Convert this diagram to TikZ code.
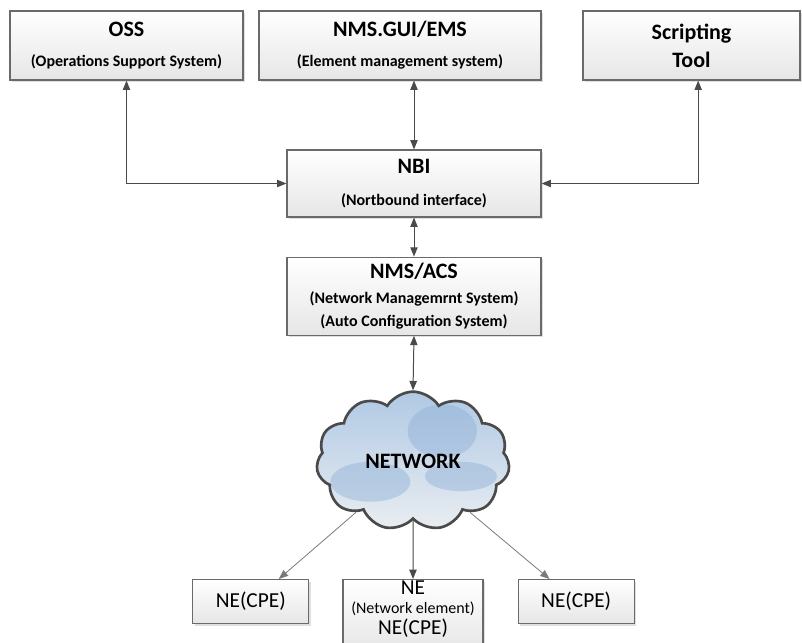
\documentclass[tikz,border=0pt]{standalone}
\usepackage{fontspec}
\setmainfont{Carlito}
\usepackage{tikz}
\usetikzlibrary{positioning, shapes.symbols, shadows, arrows.meta}

\definecolor{edgegray}{HTML}{4A4A4A}
\definecolor{linegray}{HTML}{7A7A7A}
\definecolor{boxline}{HTML}{6A6A6A}
\definecolor{boxbottom}{HTML}{E6E6E6}
\definecolor{cloudtop}{HTML}{B0C9E4}
\definecolor{cloudbottom}{HTML}{E9EDF1}
\definecolor{cloudblob}{HTML}{8AADD6}

\newcommand{\ttl}[1]{{\fontsize{16.5}{19}\selectfont\bfseries #1}}
\newcommand{\sbt}[1]{{\fontsize{12}{14}\selectfont\bfseries #1}}

\begin{document}
\begin{tikzpicture}[x=0.75pt, y=-0.75pt, every node/.style={anchor=center},
  box/.style={draw=boxline, line width=0.9pt, top color=white, bottom color=boxbottom,
    align=center, inner sep=0pt,
    drop shadow={shadow xshift=1.5pt, shadow yshift=-1.5pt, fill=black!25, opacity=0.5}},
  link/.style={<->, >={Triangle[length=7pt, width=5.5pt]}, draw=edgegray, line width=0.75pt},
  feed/.style={->, >={Triangle[length=7pt, width=5.5pt]}, draw=linegray, line width=0.6pt},
  blob/.style={fill=cloudblob, opacity=0.42}]

\useasboundingbox (0,0) rectangle (802,642);

\node[box, minimum width=174.75pt, minimum height=51.75pt, font=\fontsize{12}{22.5}\selectfont] (oss) at (126.5,45.5)
  {\ttl{OSS}\\\sbt{(Operations Support System)}};

\node[box, minimum width=211.5pt, minimum height=51.75pt, font=\fontsize{12}{22.5}\selectfont] (gui) at (400,45.5)
  {\ttl{NMS.GUI/EMS}\\\sbt{(Element management system)}};

\node[box, minimum width=162.75pt, minimum height=51.75pt, font=\fontsize{12}{21}\selectfont] (tool) at (691.5,45.5)
  {\ttl{Scripting}\\\ttl{Tool}};

\node[box, minimum width=190.5pt, minimum height=50.25pt, font=\fontsize{12}{24}\selectfont] (nbi) at (414,183.5)
  {\ttl{NBI}\\\sbt{(Nortbound interface)}};

\node[box, minimum width=190.5pt, minimum height=58.5pt, font=\fontsize{12}{17}\selectfont] (acs) [below=29.25pt of nbi]
  {\ttl{NMS/ACS}\\[2pt]\sbt{(Network Managemrnt System)}\\\sbt{(Auto Configuration System)}};

\node[cloud, cloud puffs=11, cloud puff arc=115, aspect=1.4, minimum width=145pt, minimum height=104pt,
  draw=edgegray, line width=2pt, top color=cloudtop, bottom color=cloudbottom,
  path picture={
    \fill[blob] ([xshift=22pt, yshift=22pt]path picture bounding box.center) ellipse (26pt and 20pt);
    \fill[blob] ([xshift=-32pt, yshift=-16pt]path picture bounding box.center) ellipse (30pt and 15pt);
    \fill[blob] ([xshift=36pt, yshift=-12pt]path picture bounding box.center) ellipse (27pt and 11pt);
  }] (net) at (413,461) {\ttl{NETWORK}};

\node[box, minimum width=105pt, minimum height=54pt, anchor=north, inner sep=0pt, text depth=12pt,
  font=\fontsize{16}{13}\selectfont] (ne2) at (413,579)
  {NE\\[1.5pt]{\fontsize{12}{13}\selectfont (Network element)}\\[1.5pt]NE(CPE)};

\node[box, minimum width=87pt, minimum height=33pt, font=\fontsize{16}{19}\selectfont] (ne1)
  [left=24.75pt of ne2.north west, anchor=north east] {NE(CPE)};

\node[box, minimum width=87pt, minimum height=33pt, font=\fontsize{16}{19}\selectfont] (ne3)
  [right=25.5pt of ne2.north east, anchor=north west] {NE(CPE)};

% management links
\draw[link] (oss.south) |- (nbi.west);
\draw[link] (gui.south -| nbi.north) -- (nbi.north);
\draw[link] ([xshift=5pt]tool.south) |- (nbi.east);
\draw[link] (nbi) -- (acs);
\draw[link] (acs.south) -- (net.north);

% arrows to the network elements
\foreach \a/\t/\s in {222/ne1/21pt, -42/ne3/-20pt} {
  \draw[feed] (net.\a) -- ([xshift=\s]\t.north);
}
\draw[feed, draw=edgegray, line width=0.75pt] (net.south) -- (ne2.north);

\end{tikzpicture}
\end{document}
